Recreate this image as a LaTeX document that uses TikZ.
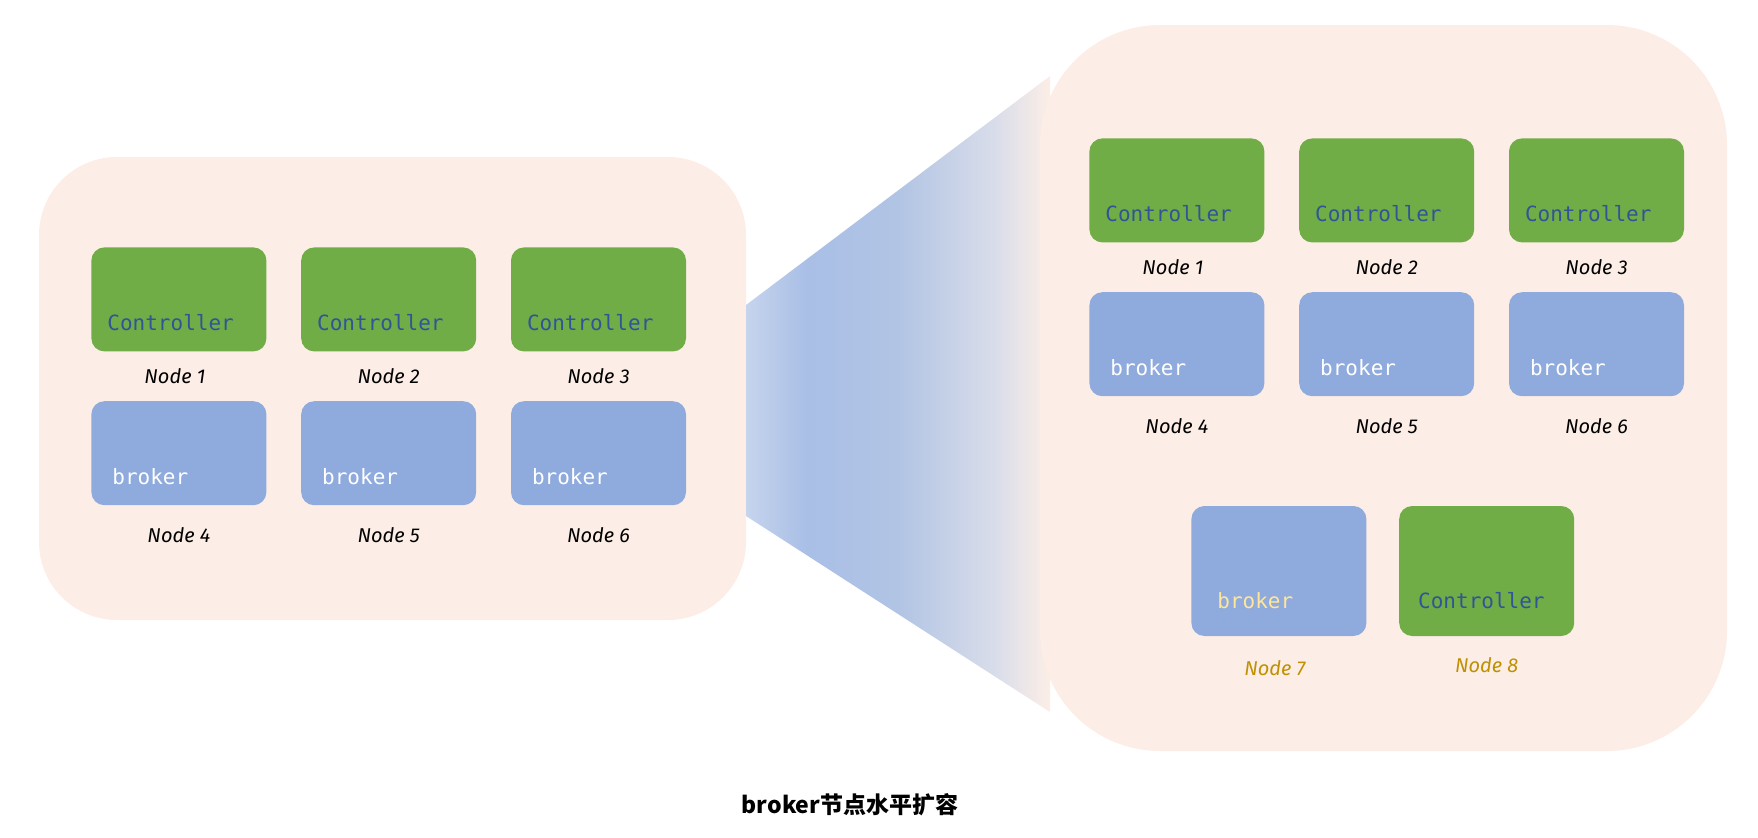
\documentclass[tikz,border=0pt]{standalone}
\usepackage{fontspec}
\setmainfont{Fira Sans}
\setmonofont{DejaVu Sans Mono}
\newfontfamily\cjk{Noto Sans CJK SC}
\usetikzlibrary{positioning}
\definecolor{peach}{HTML}{FCEEE6}
\definecolor{ctlgreen}{HTML}{70AD47}
\definecolor{brkblue}{HTML}{8FAADC}
\definecolor{ctltext}{HTML}{2F5597}
\definecolor{newgold}{HTML}{BF9000}
\definecolor{newtext}{HTML}{FFE699}
\definecolor{fanA}{HTML}{C6D4ED}
\definecolor{fanB}{HTML}{A9BFE6}
\definecolor{fanC}{HTML}{B1C4E4}
\definecolor{fanD}{HTML}{D9DDEA}
\pgfdeclarehorizontalshading{fan}{100bp}{color(0bp)=(fanA); color(25bp)=(fanA); color(35bp)=(fanB); color(50bp)=(fanC); color(66bp)=(fanD); color(75bp)=(peach); color(100bp)=(peach)}

\begin{document}
\begin{tikzpicture}[x=0.5pt, y=-0.5pt, node distance=24.5pt and 17pt,
 box/.style={rounded corners=6.5pt,inner xsep=8pt,inner ysep=0pt,text width=71.5pt,align=left,
  text height=41.5pt,text depth=10.5pt,font=\ttfamily\fontsize{10.5}{12}\selectfont},
 ctl/.style={box,fill=ctlgreen,text=ctltext},
 brk/.style={box,fill=brkblue,text=white,inner xsep=10.5pt,text width=66.5pt},
 tall/.style={text height=51pt,text depth=14pt},
 lbl/.style={inner sep=0pt,font=\itshape\fontsize{10}{12}\selectfont}]
\useasboundingbox (0,0) rectangle (1758,837);
% the two clusters and the fan between them
\fill[peach,rounded corners=39pt] (39,157) rectangle (746,620);
\shade[shading=fan] (746,305) -- (1050,76) -- (1050,712) -- (746,516) -- cycle;
\fill[peach,rounded corners=60pt] (1040,25) rectangle (1727,751);
% before
\node[ctl,anchor=north west] (lc1) at (91,247) {Controller};
\node[ctl,right=of lc1] (lc2) {Controller};
\node[ctl,right=of lc2] (lc3) {Controller};
\node[brk,below=of lc1] (lb4) {broker};
\node[brk,right=of lb4] (lb5) {broker};
\node[brk,right=of lb5] (lb6) {broker};
\node[lbl,below=8pt of lc1,xshift=-2pt] (ln1) {Node 1};
\node[lbl,below=8pt of lc2] (ln2) {Node 2};
\node[lbl,below=8pt of lc3] (ln3) {Node 3};
\node[lbl,below=11pt of lb4] (ln4) {Node 4};
\node[lbl,below=11pt of lb5] (ln5) {Node 5};
\node[lbl,below=11pt of lb6] (ln6) {Node 6};
% after
\node[ctl,anchor=north west] (rc1) at (1089,138) {Controller};
\node[ctl,right=of rc1] (rc2) {Controller};
\node[ctl,right=of rc2] (rc3) {Controller};
\node[brk,below=of rc1] (rb4) {broker};
\node[brk,right=of rb4] (rb5) {broker};
\node[brk,right=of rb5] (rb6) {broker};
\node[brk,tall,text=newtext,inner xsep=13pt,text width=61.5pt,below right=54.5pt and 51pt of rb4.south west] (rb7) {broker};
\node[ctl,tall,inner xsep=9.5pt,text width=68.5pt,right=16pt of rb7] (rc8) {Controller};
\node[lbl,below=8pt of rc1,xshift=-2pt] (rn1) {Node 1};
\node[lbl,below=8pt of rc2] (rn2) {Node 2};
\node[lbl,below=8pt of rc3] (rn3) {Node 3};
\node[lbl,below=11pt of rb4] (rn4) {Node 4};
\node[lbl,below=11pt of rb5] (rn5) {Node 5};
\node[lbl,below=11pt of rb6] (rn6) {Node 6};
\node[lbl,text=newgold,below=12pt of rb7,xshift=-2pt] (rn7) {Node 7};
\node[lbl,text=newgold,below=10.5pt of rc8] (rn8) {Node 8};
\node[font=\cjk\bfseries\fontsize{11.5}{14}\selectfont] (title) at (850,805) {broker节点水平扩容};
\end{tikzpicture}
\end{document}
